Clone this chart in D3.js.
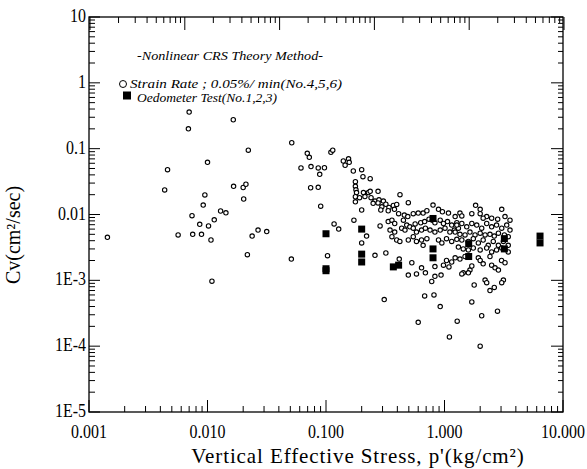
<!DOCTYPE html>
<html>
<head>
<meta charset="utf-8">
<script src="https://cdnjs.cloudflare.com/ajax/libs/d3/7.8.5/d3.min.js"></script>
<style>
  body { margin: 0; background: #fff; }
  svg { display: block; }
  text { font-family: "Liberation Serif", "Times New Roman", serif; fill: #000; }
</style>
</head>
<body>
<div id="chart"></div>
<script>
// Cv vs vertical effective stress

// CRS test, strain rate 0.05%/min (No.4,5,6) : [p' (kg/cm2), Cv (cm2/sec)]
var crsPoints = [
    [0.00143, 0.0045], [0.0070, 0.36], [0.0069, 0.20], [0.0165, 0.275], [0.0221, 0.095],
    [0.0100, 0.062], [0.0046, 0.048], [0.00435, 0.0236], [0.0166, 0.0268], [0.0200, 0.0257],
    [0.0211, 0.0288], [0.0202, 0.0172], [0.0095, 0.0198], [0.0092, 0.0139], [0.0129, 0.0113],
    [0.0143, 0.0106], [0.0074, 0.0096], [0.0114, 0.0083], [0.0086, 0.0071], [0.0102, 0.0067],
    [0.00565, 0.0049], [0.0075, 0.0050], [0.0089, 0.0050], [0.0107, 0.0041], [0.0238, 0.0047],
    [0.0267, 0.0058], [0.0316, 0.0055], [0.0217, 0.00245], [0.0109, 0.00097], [0.051, 0.0021],
    [0.0514, 0.123], [0.0695, 0.085], [0.0723, 0.074], [0.110, 0.088], [0.114, 0.095],
    [0.140, 0.065], [0.155, 0.070], [0.145, 0.056], [0.157, 0.062], [0.0615, 0.051],
    [0.0747, 0.0535], [0.086, 0.051], [0.097, 0.0513], [0.0885, 0.0408], [0.170, 0.0458],
    [0.0742, 0.0255], [0.086, 0.0259], [0.0902, 0.0134], [0.177, 0.0315], [0.177, 0.0268],
    [0.179, 0.0237], [0.181, 0.0215], [0.177, 0.0186], [0.177, 0.0156], [0.172, 0.0082],
    [0.117, 0.0072], [0.128, 0.0060], [0.103, 0.00237],
    [0.20, 0.048], [0.205, 0.0375], [0.236, 0.035], [0.207, 0.0215], [0.228, 0.0215],
    [0.236, 0.0225], [0.275, 0.0225], [0.421, 0.020], [0.192, 0.018], [0.213, 0.0187],
    [0.24, 0.018], [0.259, 0.016], [0.28, 0.0167], [0.305, 0.016], [0.25, 0.0148],
    [0.275, 0.015], [0.296, 0.0131], [0.32, 0.0143], [0.34, 0.0128], [0.37, 0.0137],
    [0.395, 0.0142], [0.495, 0.0151], [0.20, 0.0117], [0.29, 0.0117], [0.335, 0.0114],
    [0.378, 0.012], [0.41, 0.0103], [0.458, 0.0098], [0.49, 0.0093], [0.545, 0.0103],
    [0.60, 0.0105], [0.66, 0.0105], [0.71, 0.0114], [0.80, 0.0139], [0.89, 0.012],
    [0.96, 0.011], [1.08, 0.0105],
    [0.335, 0.0078], [0.36, 0.0082], [0.38, 0.0073], [0.45, 0.0082], [0.48, 0.0069],
    [0.51, 0.0065], [0.565, 0.0072], [0.63, 0.0075], [0.68, 0.0078], [0.74, 0.0085],
    [0.79, 0.0082], [0.83, 0.0075], [0.92, 0.0082], [0.98, 0.0073], [1.06, 0.0078],
    [1.15, 0.0069], [1.27, 0.0075],
    [0.286, 0.0067], [0.347, 0.0058], [0.38, 0.0054], [0.435, 0.0062], [0.464, 0.0058],
    [0.545, 0.0062], [0.58, 0.0054], [0.64, 0.0058], [0.69, 0.0062], [0.755, 0.0058],
    [0.83, 0.0054], [0.92, 0.0058], [1.01, 0.0062], [1.11, 0.0054], [1.21, 0.0058],
    [1.31, 0.0062],
    [0.22, 0.0047], [0.20, 0.0037], [0.36, 0.0046], [0.395, 0.0041], [0.42, 0.0039],
    [0.495, 0.0041], [0.545, 0.0046], [0.58, 0.0039], [0.64, 0.0041], [0.66, 0.0034],
    [0.71, 0.0043], [0.89, 0.0041], [0.95, 0.0037], [1.04, 0.0043], [1.15, 0.0039],
    [1.27, 0.0042],
    [1.83, 0.0138], [3.04, 0.012], [1.23, 0.0093], [1.35, 0.0105], [1.40, 0.0095],
    [1.70, 0.0103], [2.0, 0.0103], [2.27, 0.0093], [2.50, 0.0088], [2.81, 0.0085],
    [3.24, 0.0093], [3.57, 0.0082], [2.0, 0.012], [2.12, 0.0088],
    [1.27, 0.0069], [1.40, 0.0073], [1.54, 0.0065], [1.70, 0.0073], [1.87, 0.0069],
    [2.06, 0.0062], [2.27, 0.0073], [2.50, 0.0065], [2.75, 0.0069], [3.04, 0.0062],
    [3.35, 0.0069], [3.57, 0.0058],
    [1.23, 0.0054], [1.35, 0.0050], [1.49, 0.0049], [1.64, 0.0054], [1.81, 0.0049],
    [2.0, 0.0052], [2.2, 0.0049], [2.42, 0.0050], [2.63, 0.0047], [2.85, 0.0052],
    [3.2, 0.0049], [3.45, 0.0046],
    [1.40, 0.0041], [1.59, 0.0039], [1.75, 0.0043], [1.93, 0.0037], [2.12, 0.0041],
    [2.34, 0.0034], [2.58, 0.0039], [2.85, 0.0034], [3.14, 0.0039], [3.45, 0.0034],
    [1.31, 0.0032], [1.44, 0.0030], [1.59, 0.0029], [1.75, 0.0031], [2.0, 0.0029],
    [2.27, 0.0031], [2.5, 0.0027], [2.75, 0.0029], [3.04, 0.0031], [3.45, 0.0027],
    [1.23, 0.0022], [1.35, 0.0021], [1.49, 0.0023], [1.93, 0.0022], [1.44, 0.0013],
    [0.259, 0.0024], [0.32, 0.0026], [0.415, 0.0021], [0.53, 0.00185], [0.495, 0.0012],
    [0.58, 0.00125], [0.69, 0.0013], [0.64, 0.00155], [0.78, 0.00096], [0.83, 0.00115],
    [0.935, 0.0012], [0.83, 0.00162], [0.98, 0.0017], [1.04, 0.0020], [1.15, 0.0019],
    [1.09, 0.0016], [0.31, 0.00051], [0.68, 0.00058], [0.815, 0.0006], [0.92, 0.0004],
    [0.60, 0.00023], [1.10, 0.000138],
    [1.40, 0.00125], [1.64, 0.00143], [1.70, 0.00165], [1.59, 0.0013], [2.0, 0.0020],
    [2.12, 0.00178], [2.42, 0.0023], [2.50, 0.0017], [2.67, 0.00155], [2.85, 0.00143],
    [3.03, 0.0020], [3.24, 0.00185], [1.78, 0.00085], [1.70, 0.00047], [2.2, 0.00101],
    [2.27, 0.00092], [2.42, 0.0007], [2.63, 0.00078], [3.14, 0.00101], [3.04, 0.00092],
    [2.80, 0.00034], [2.06, 0.00029], [1.28, 0.00024], [2.0, 0.0001]
];

// Oedometer test (No.1,2,3)
var oedPoints = [
    [0.1, 0.0051], [0.1, 0.0015], [0.1, 0.0014],
    [0.2, 0.0060], [0.2, 0.0025], [0.2, 0.0019],
    [0.37, 0.0016], [0.41, 0.0017],
    [0.8, 0.0030], [0.8, 0.0022], [0.8, 0.0087],
    [1.6, 0.0023], [1.6, 0.0036],
    [3.2, 0.0043], [3.2, 0.0030],
    [6.4, 0.0047], [6.4, 0.0037]
];

var xTickValues = [0.001, 0.01, 0.1, 1, 10];
var xTickLabels = ["0.001", "0.010", "0.100", "1.000", "10.000"];
var yTickValues = [1e-5, 1e-4, 1e-3, 0.01, 0.1, 1, 10];
var yTickLabels = ["1E-5", "1E-4", "1E-3", "0.01", "0.1", "1", "10"];

var legendLines = [
    "-Nonlinear CRS Theory Method-",
    "Strain Rate ; 0.05%/ min(No.4,5,6)",
    "Oedometer Test(No.1,2,3)"
];

var width = 587, height = 469;
var plot = { left: 89, right: 563, top: 17, bottom: 412 };

var svg = d3.select("#chart").append("svg")
    .attr("width", width)
    .attr("height", height);

var x = d3.scaleLog().domain([1e-3, 10]).range([plot.left, plot.right]);
var y = d3.scaleLog().domain([1e-5, 10]).range([plot.bottom, plot.top]);
// the top frame of the scanned figure carries five decades, not four
var xTop = d3.scaleLog().domain([1e-3, 1e2]).range([plot.left + 1, plot.right + 1]);

function isMajor(v) {
    var l = Math.log10(v);
    return Math.abs(l - Math.round(l)) < 1e-6;
}

// the scanned lettering is tall and narrow, so squeeze it sideways
function squeeze(sel, px, py, sx) {
    return sel.attr("transform", "translate(" + px + "," + py + ") scale(" + sx + ",1)");
}

// frame
svg.append("rect")
    .attr("x", plot.left)
    .attr("y", plot.top)
    .attr("width", plot.right - plot.left)
    .attr("height", plot.bottom - plot.top)
    .attr("fill", "none")
    .attr("stroke", "#000")
    .attr("stroke-width", 1.3);

// inward ticks, drawn as plain lines from the scale ticks
var ticks = svg.append("g").attr("stroke", "#000").attr("stroke-width", 1);

var bx = x.ticks();
ticks.selectAll("line.bx").data(bx).enter().append("line")
    .attr("x1", d => x(d)).attr("x2", d => x(d))
    .attr("y1", plot.bottom)
    .attr("y2", d => plot.bottom - (isMajor(d) ? 12 : 6));

var tx = xTop.ticks();
ticks.selectAll("line.tx").data(tx).enter().append("line")
    .attr("x1", d => xTop(d)).attr("x2", d => xTop(d))
    .attr("y1", plot.top)
    .attr("y2", d => plot.top + (isMajor(d) ? 13 : 6));

var ly = y.ticks();
ticks.selectAll("line.ly").data(ly).enter().append("line")
    .attr("y1", d => y(d)).attr("y2", d => y(d))
    .attr("x1", plot.left)
    .attr("x2", d => plot.left + (isMajor(d) ? 11 : 6));

ticks.selectAll("line.ry").data(ly).enter().append("line")
    .attr("y1", d => y(d)).attr("y2", d => y(d))
    .attr("x1", plot.right)
    .attr("x2", d => plot.right - (isMajor(d) ? 12 : 5));

// tick labels
svg.append("g").selectAll("text").data(xTickValues).enter().append("text")
    .attr("text-anchor", "middle")
    .attr("font-size", 19)
    .each(function (d) { squeeze(d3.select(this), x(d), 438, 0.84); })
    .text((d, i) => xTickLabels[i]);

svg.append("g").selectAll("text").data(yTickValues).enter().append("text")
    .attr("text-anchor", "end")
    .attr("font-size", 19)
    .each(function (d) { squeeze(d3.select(this), plot.left - 3, y(d) + 5, 0.84); })
    .text((d, i) => yTickLabels[i]);

// axis titles
svg.append("text")
    .attr("x", 358)
    .attr("y", 463)
    .attr("text-anchor", "middle")
    .attr("font-size", 21)
    .attr("letter-spacing", 0.9)
    .text("Vertical Effective Stress, p'(kg/cm²)");

svg.append("text")
    .attr("transform", "translate(20,235) rotate(-90)")
    .attr("text-anchor", "middle")
    .attr("font-size", 20)
    .text("Cv(cm²/sec)");

// data
svg.append("g").selectAll("circle").data(crsPoints).enter().append("circle")
    .attr("cx", d => x(d[0]))
    .attr("cy", d => y(d[1]))
    .attr("r", 2.2)
    .attr("fill", "#fff")
    .attr("stroke", "#000")
    .attr("stroke-width", 1.1);

var sq = 7;
svg.append("g").selectAll("rect").data(oedPoints).enter().append("rect")
    .attr("x", d => x(d[0]) - sq / 2)
    .attr("y", d => y(d[1]) - sq / 2)
    .attr("width", sq)
    .attr("height", sq)
    .attr("fill", "#000");

// legend
var legend = svg.append("g")
    .attr("font-style", "italic")
    .attr("font-size", 13);

legend.append("text").attr("x", 137).attr("y", 60)
    .attr("textLength", 186).attr("lengthAdjust", "spacingAndGlyphs")
    .text(legendLines[0]);

legend.append("circle")
    .attr("cx", 123).attr("cy", 84).attr("r", 3.5)
    .attr("fill", "#fff").attr("stroke", "#000").attr("stroke-width", 1);
legend.append("text").attr("x", 130).attr("y", 87.5)
    .attr("textLength", 212).attr("lengthAdjust", "spacingAndGlyphs")
    .text(legendLines[1]);

legend.append("rect")
    .attr("x", 123).attr("y", 91.5).attr("width", 8).attr("height", 8)
    .attr("fill", "#000");
legend.append("text").attr("x", 137).attr("y", 101.5)
    .attr("textLength", 140).attr("lengthAdjust", "spacingAndGlyphs")
    .text(legendLines[2]);
</script>
</body>
</html>
